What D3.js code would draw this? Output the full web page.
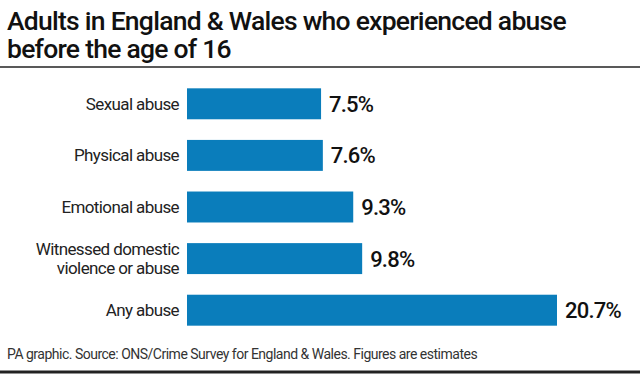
<!DOCTYPE html>
<html><head><meta charset="utf-8">
<script src="https://cdn.jsdelivr.net/npm/d3@7"></script>
<style>body{margin:0;background:#fff}svg{display:block}text{font-family:Roboto,"Liberation Sans",sans-serif}</style>
</head><body>
<script>
const categories = ["Sexual abuse","Physical abuse","Emotional abuse","Witnessed domestic\nviolence or abuse","Any abuse"];
const values = [7.5,7.6,9.3,9.8,20.7];
const valueLabels = ["7.5%","7.6%","9.3%","9.8%","20.7%"];
const title = ["Adults in England & Wales who experienced abuse","before the age of 16"];
const source = "PA graphic. Source: ONS/Crime Survey for England & Wales. Figures are estimates";

const W=640,H=374;
const svg=d3.select("body").append("svg").attr("width",W).attr("height",H);
svg.append("rect").attr("width",W).attr("height",H).attr("fill","#fff");

svg.selectAll("text.title").data(title).join("text").attr("class","title")
  .attr("x",7).attr("y",(d,i)=>30+i*28).attr("font-size",26.5).attr("font-weight",500)
  .attr("letter-spacing",-0.75).attr("fill","#111").text(d=>d);
svg.append("line").attr("x1",0).attr("x2",W).attr("y1",67).attr("y2",67).attr("stroke","#222").attr("stroke-width",1.5);

const x=d3.scaleLinear().domain([0,20.7]).range([187,557]);
const y=d3.scaleBand().domain(categories).range([78,336]).paddingInner(0.4).paddingOuter(0.2);

svg.selectAll("rect.bar").data(values).join("rect").attr("class","bar")
  .attr("x",x(0)).attr("y",(d,i)=>y(categories[i])).attr("width",d=>x(d)-x(0))
  .attr("height",y.bandwidth()).attr("fill","#0a7dbb");

const lab=svg.selectAll("text.cat").data(categories).join("text").attr("class","cat")
  .attr("x",179).attr("text-anchor","end").attr("font-size",17).attr("letter-spacing",-0.6).attr("fill","#222");
lab.each(function(d){
  const lines=d.split("\n");
  const cy=y(d)+y.bandwidth()/2;
  d3.select(this).selectAll("tspan").data(lines).join("tspan").attr("x",179)
    .attr("y",(l,i)=>cy+6+(i-(lines.length-1)/2)*19).text(l=>l);
});

svg.selectAll("text.val").data(values).join("text").attr("class","val")
  .attr("x",d=>x(d)+8).attr("y",(d,i)=>y(categories[i])+y.bandwidth()/2+8)
  .attr("font-size",22).attr("font-weight",500).attr("letter-spacing",-0.8).attr("fill","#111")
  .text((d,i)=>valueLabels[i]);

svg.append("text").attr("x",7).attr("y",359).attr("font-size",14).attr("letter-spacing",-0.5)
  .attr("fill","#333").text(source);
svg.append("line").attr("x1",0).attr("x2",W).attr("y1",372).attr("y2",372).attr("stroke","#222").attr("stroke-width",3);
</script>
</body></html>
